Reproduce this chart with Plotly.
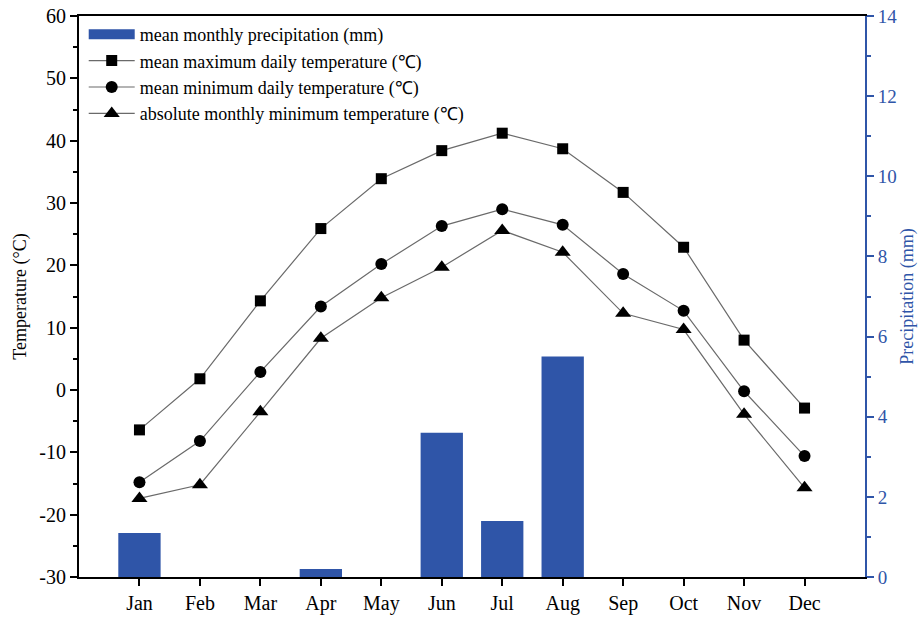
import plotly.graph_objects as go

months = ["Jan", "Feb", "Mar", "Apr", "May", "Jun", "Jul", "Aug", "Sep", "Oct", "Nov", "Dec"]
precip = [1.1, 0, 0, 0.2, 0, 3.6, 1.4, 5.5, 0, 0, 0, 0]
t_max = [-6.4, 1.8, 14.3, 25.9, 33.9, 38.4, 41.2, 38.7, 31.7, 22.9, 8.0, -2.9]
t_min = [-14.8, -8.2, 2.9, 13.4, 20.2, 26.3, 29.0, 26.5, 18.6, 12.7, -0.2, -10.6]
t_abs = [-17.4, -15.2, -3.5, 8.3, 14.8, 19.7, 25.6, 22.1, 12.3, 9.7, -3.9, -15.7]
temp_ticks = [-30, -20, -10, 0, 10, 20, 30, 40, 50, 60]
precip_ticks = [0, 2, 4, 6, 8, 10, 12, 14]

font_family = "Liberation Serif, Times New Roman, serif"
blue = "#2f55a8"
line_col = "#6a6a6a"

fig = go.Figure()
fig.add_trace(go.Bar(x=months, y=precip, name="mean monthly precipitation (mm)", showlegend=False,
                     marker=dict(color=blue, line=dict(width=0)), width=0.7, yaxis="y"))
# legend swatch for precipitation (wide rectangle like the reference)
fig.add_trace(go.Scatter(x=[None], y=[None], name="mean monthly precipitation (mm)", mode="lines",
                         line=dict(color=blue, width=20), yaxis="y"))
for vals, sym, sz, nm in [(t_max, "square", 11, "mean maximum daily temperature (℃)"),
                          (t_min, "circle", 12, "mean minimum daily temperature (℃)"),
                          (t_abs, "triangle-up", 14, "absolute monthly minimum temperature (℃)")]:
    fig.add_trace(go.Scatter(x=months, y=vals, name=nm, mode="lines+markers", yaxis="y2",
                             line=dict(color=line_col, width=1.2),
                             marker=dict(symbol=sym, size=sz, color="black")))

fig.update_layout(
    width=923, height=618,
    margin=dict(l=79, r=58, t=16, b=41, autoexpand=False),
    paper_bgcolor="white", plot_bgcolor="white",
    font=dict(family=font_family, size=20, color="black"),
    showlegend=True,
    legend=dict(x=0.006, y=1.0, xanchor="left", yanchor="top", bgcolor="rgba(0,0,0,0)",
                font=dict(size=18), tracegroupgap=0, itemwidth=46),
    xaxis=dict(type="category", range=[-1, 12], showline=True, linecolor="black", linewidth=2,
               mirror=True, ticks="outside", ticklen=7, tickwidth=2, tickcolor="black",
               showgrid=False, zeroline=False, automargin=False),
    yaxis=dict(side="right", range=[0, 14], tickvals=precip_ticks,
               ticktext=[str(v) for v in precip_ticks], showline=True, linecolor=blue, linewidth=2,
               ticks="outside", ticklen=7, tickwidth=2, tickcolor=blue, ticklabeloverflow="allow",
               minor=dict(ticks="outside", ticklen=4, tickwidth=1.5, dtick=1, tickcolor=blue),
               tickfont=dict(color=blue, size=19), showgrid=False, zeroline=False, automargin=False,
               title=dict(text="Precipitation (mm)", font=dict(color=blue, size=18), standoff=4)),
    yaxis2=dict(side="left", overlaying="y", range=[-30, 60], tickvals=temp_ticks,
                ticktext=[str(v) for v in temp_ticks], showline=True, ticklabeloverflow="allow",
                linecolor="black", linewidth=2, ticks="outside", ticklen=7, tickwidth=2,
                tickcolor="black",
                minor=dict(ticks="outside", ticklen=4, tickwidth=1.5, dtick=5, tickcolor="black"),
                showgrid=False, zeroline=False, automargin=False,
                title=dict(text="Temperature (°C)", font=dict(size=18), standoff=8)),
)

fig.write_html("out.html", config={"displayModeBar": False},
               post_script="document.body.style.margin='0';document.body.style.overflow='hidden';")
